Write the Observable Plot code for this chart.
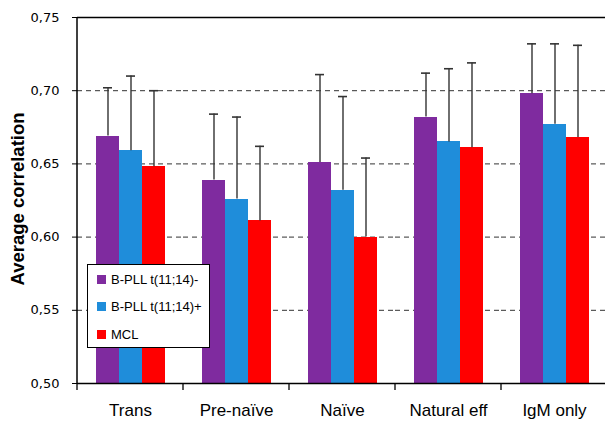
<!DOCTYPE html>
<html>
<head>
<meta charset="utf-8">
<script src="https://cdn.jsdelivr.net/npm/d3@7"></script>
<script src="https://cdn.jsdelivr.net/npm/@observablehq/plot@0.6"></script>
<style>
  html, body { margin: 0; padding: 0; background: #fff; overflow: hidden; }
  #wrap { position: relative; width: 605px; height: 421px; overflow: hidden; }
  #wrap svg { max-width: none !important; }
  #legend {
    position: absolute; left: 87px; top: 264px; width: 123px; height: 84px;
    background: #fff; border: 1px solid #000; box-sizing: border-box;
    font-family: "Liberation Sans", Arial, sans-serif; font-size: 13px; color: #000;
  }
  #legend .item { position: absolute; left: 9px; height: 14px; line-height: 14px; white-space: nowrap; }
  #legend .sw { display: inline-block; width: 9px; height: 9px; margin-right: 5px; vertical-align: 0px; }
</style>
</head>
<body>
<div id="wrap"></div>
<script>
const categories = ["Trans", "Pre-naïve", "Naïve", "Natural eff", "IgM only"];
const series = ["B-PLL t(11;14)-", "B-PLL t(11;14)+", "MCL"];
const colors = ["#7F2B9F", "#1F8DDA", "#FF0000"];
// mean values per series (one value per category)
const meanNeg = [0.669, 0.639, 0.651, 0.682, 0.698];
const meanPos = [0.659, 0.626, 0.632, 0.665, 0.677];
const meanMCL = [0.648, 0.611, 0.600, 0.661, 0.668];
// error (upper) sizes per series
const errNeg = [0.033, 0.045, 0.060, 0.030, 0.034];
const errPos = [0.051, 0.056, 0.064, 0.050, 0.055];
const errMCL = [0.052, 0.051, 0.054, 0.058, 0.063];
const yTicks = [0.50, 0.55, 0.60, 0.65, 0.70, 0.75];
const gridTicks = [0.55, 0.60, 0.65, 0.70];

const means = [meanNeg, meanPos, meanMCL];
const errs = [errNeg, errPos, errMCL];
const rows = [];
categories.forEach((c, i) => series.forEach((s, j) => {
  rows.push({cat: c, series: s, mean: means[j][i], upper: means[j][i] + errs[j][i]});
}));

const chart = Plot.plot({
  width: 612,
  height: 421,
  marginLeft: 76,
  marginRight: 4,
  marginTop: 17,
  marginBottom: 38,
  style: {fontFamily: "'Liberation Sans', Arial, sans-serif", background: "#fff", overflow: "visible", maxWidth: "none"},
  fx: {domain: categories, padding: 0, label: null, tickSize: 0, tickPadding: 20, axis: "bottom"},
  x: {domain: series, paddingInner: 0, paddingOuter: 0.783, axis: null},
  y: {domain: [0.5, 0.75], ticks: yTicks, tickFormat: d => d.toFixed(2).replace(".", ","), tickSize: 5, tickPadding: 13, label: null},
  color: {domain: series, range: colors},
  marks: [
    Plot.ruleY(gridTicks, {stroke: "#333", strokeWidth: 1, strokeDasharray: "5,4"}),
    Plot.barY(rows, {fx: "cat", x: "series", y1: 0.5, y2: "mean", fill: "series", shapeRendering: "crispEdges"}),
    Plot.ruleX(rows, {fx: "cat", x: "series", y1: "mean", y2: "upper", stroke: "#333", strokeWidth: 1.4}),
    Plot.tickY(rows, {fx: "cat", x: "series", y: "upper", stroke: "#333", strokeWidth: 1.6, inset: 7}),
    Plot.ruleY([0.5, 0.75], {stroke: "#000", strokeWidth: 1.5})
  ]
});
chart.style.maxWidth = "none";

const svg = d3.select(chart.tagName.toLowerCase() === "svg" ? chart : chart.querySelector("svg"));
svg.style("max-width", "none");
// font sizes for axes
svg.selectAll("text").each(function() {
  const t = d3.select(this);
  const lab = (this.closest("[aria-label]") || {getAttribute: () => ""}).getAttribute("aria-label") || "";
  if (lab.startsWith("y-axis")) t.attr("font-size", 13).attr("font-family", "'DejaVu Sans', Verdana, sans-serif");
  if (lab.startsWith("fx-axis")) t.attr("font-size", 17);
});
svg.selectAll("[aria-label^='y-axis'] text").attr("font-size", 13).attr("font-family", "'DejaVu Sans', Verdana, sans-serif");
svg.selectAll("[aria-label^='fx-axis'] text").attr("font-size", 17);

// category boundary ticks and left axis line, positioned with the fx scale
const fx = chart.scale("fx");
const yS = chart.scale("y");
const y0 = yS.apply(0.5), y1 = yS.apply(0.75);
const g = svg.append("g").attr("stroke", "#000");
categories.forEach(c => {
  const xl = fx.apply(c);
  g.append("line").attr("x1", xl).attr("x2", xl).attr("y1", y0).attr("y2", y0 + 7).attr("stroke-width", 1.3);
});
const xLeft = fx.apply(categories[0]);
g.append("line").attr("x1", xLeft).attr("x2", xLeft).attr("y1", y1).attr("y2", y0).attr("stroke-width", 1.5);
svg.append("text")
  .attr("transform", `translate(17,199) rotate(-90)`)
  .attr("text-anchor", "middle").attr("dominant-baseline", "central")
  .attr("font-family", "'Liberation Sans', Arial, sans-serif").attr("font-weight", "bold").attr("font-size", 18.5)
  .attr("fill", "#000")
  .text("Average correlation");

const wrap = document.getElementById("wrap");
wrap.appendChild(chart);

// legend
const legend = document.createElement("div");
legend.id = "legend";
series.forEach((s, j) => {
  const it = document.createElement("div");
  it.className = "item";
  it.style.top = (8 + j * 27.3) + "px";
  const sw = document.createElement("span");
  sw.className = "sw";
  sw.style.background = colors[j];
  it.appendChild(sw);
  it.appendChild(document.createTextNode(s));
  legend.appendChild(it);
});
wrap.appendChild(legend);
</script>
</body>
</html>
